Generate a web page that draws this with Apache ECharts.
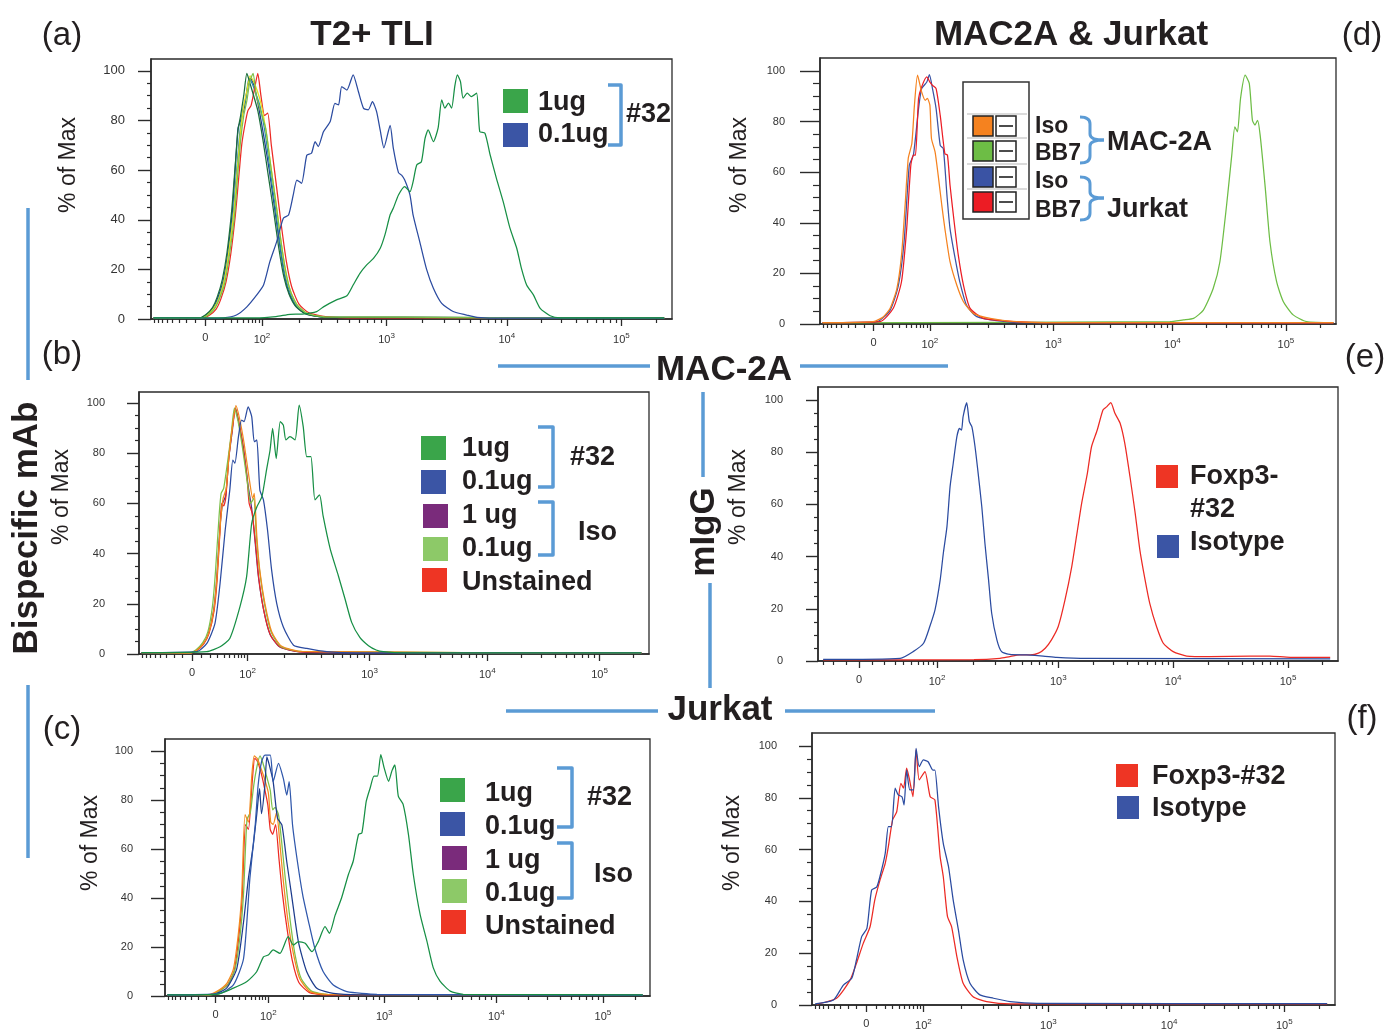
<!DOCTYPE html>
<html>
<head>
<meta charset="utf-8">
<script src="https://cdn.jsdelivr.net/npm/echarts@6/dist/echarts.min.js"></script>
<style>
html,body{margin:0;padding:0;background:#fff}
#chart{width:1388px;height:1034px}
</style>
</head>
<body>
<div id="chart"></div>
<script>
// x values are display channels (0–1000) of a biexponential fluorescence scale,
// y values are "% of Max" of each histogram.

// ---- tick labels and their channel positions ----
const xTickLabels = ['0', '10{s|2}', '10{s|3}', '10{s|4}', '10{s|5}'];
const xTickStd = [104, 213, 452, 683, 903];   // panels a, b, c, d, f
const xTickE   = [79, 229, 462, 683, 904];    // panel e
const yMajor = [0, 20, 40, 60, 80, 100];
const yMinor = [5, 10, 15, 25, 30, 35, 45, 50, 55, 65, 70, 75, 85, 90, 95];

// ---- (a) T2+ TLI ----
const aNavy = [[5,0.5],[93,0.4],[106,1.6],[119,4.4],[128,8.5],[138,15],[147,26],[156,43],[162,62],[167,77],[172,80],[179,85],[185,93],[191,97],[198,94],[207,85],[217,73],[227,60],[237,45],[247,30],[256,18],[266,10],[279,5],[298,2],[330,0.8],[985,0.4]];
const aTeal = [[5,0.5],[94,0.4],[107,1.6],[120,4.4],[130,8.4],[140,15.5],[149,27],[158,43],[164,59],[170,74],[176,84],[182,89],[188,97],[194,95],[201,91],[209,86],[219,75],[228,61],[238,46],[248,30],[257,18],[267,10.5],[280,5.2],[299,2.1],[331,0.8],[985,0.4]];
const aRed = [[5,0.5],[100,0.4],[112,1.5],[125,4],[134,8],[144,15],[153,26],[162,42],[168,56],[174,70],[180,78],[186,84],[192,86],[198,92],[205,99],[211,90],[218,82],[224,83],[231,70],[240,55],[250,38],[260,23],[270,13],[284,6],[303,2.5],[335,1],[400,0.5],[985,0.4]];
const aYellow = [[5,0.5],[95,0.4],[108,1.6],[121,4.5],[131,8.6],[141,16],[150,28],[160,45],[166,61],[172,76],[178,86],[184,92],[190,98],[196,96],[204,92],[212,86],[222,74],[231,60],[241,45],[251,29],[260,17],[270,10],[283,5],[302,2],[333,0.8],[985,0.4]];
const aDkGreen = [[5,0.5],[92,0.4],[105,1.7],[118,4.6],[127,8.8],[137,16],[146,27],[155,44],[161,60],[167,76],[172,82],[178,90],[184,99],[190,95],[197,90],[205,84],[215,72],[225,58],[235,44],[245,29],[255,17],[265,10],[278,5],[297,2],[329,0.8],[985,0.4]];
const aLtGreen = [[5,0.5],[96,0.4],[109,1.5],[122,4.2],[131,8],[141,14],[150,25],[160,41],[166,57],[172,72],[178,82],[184,88],[190,96],[196,99],[202,90],[210,84],[220,77],[229,63],[239,48],[249,32],[258,20],[268,11],[281,5.5],[300,2.2],[332,0.9],[985,0.4]];
const a01ug = [[5,0.5],[110,0.4],[139,0.5],[164,1.6],[184,4.9],[203,9.7],[216,13.7],[228,23],[241,31],[254,40.6],[264,41.9],[273,50],[280,56],[289,54.7],[299,66],[308,66.8],[315,71.5],[321,69.5],[331,75.5],[344,79.6],[353,86.9],[360,86.3],[366,93.7],[376,92.3],[388,98.4],[398,91.7],[408,84.9],[417,84.3],[425,87.6],[433,83.6],[440,76],[447,69],[459,78],[465,69],[475,59],[481,58],[487,56],[497,50],[503,42],[516,31],[529,20],[542,12.4],[558,6.3],[580,3],[606,1.6],[625,0.7],[660,0.4],[985,0.4]];
const a1ug = [[5,0.5],[200,0.5],[240,1],[267,1.9],[290,2],[318,3],[331,4.9],[356,7.7],[376,9.4],[388,13.7],[401,18.4],[414,21.8],[427,24.4],[440,28.5],[449,33.9],[459,42],[465,44.6],[475,50],[487,53.4],[497,51.3],[503,55.3],[510,62.1],[519,63.4],[526,72.8],[532,76.2],[542,71.5],[551,76.9],[558,88.3],[564,85],[571,87],[577,85],[583,93.7],[588,98.4],[594,95.7],[599,89],[607,91],[615,89.6],[625,91],[631,75.5],[641,74.9],[651,66.1],[663,56.7],[676,47.3],[689,36.6],[702,28.5],[711,20.4],[721,13.7],[734,9.7],[747,4.3],[766,1.3],[785,0.5],[985,0.5]];

// ---- (b) MAC-2A, bispecific mAb ----
const bPurple = [[5,0.5],[100,0.4],[113,1.5],[126,4],[136,8],[146,17],[152,29],[159,51],[164,60],[170,63],[176,78],[183,89],[189,98],[196,92],[205,82],[214,67],[221,58],[228,44],[234,31],[244,18],[257,7.8],[276,2.8],[316,0.8],[400,0.4],[985,0.4]];
const bRed = [[5,0.5],[101,0.4],[114,1.5],[127,4],[137,8],[147,17],[153,29],[159,50],[162,60],[166,59],[170,62],[176,78],[183,90],[189,98],[196,92],[205,81],[212,70],[216,60],[222,56],[229,43],[235,30],[245,17],[258,7.5],[277,2.8],[318,0.8],[985,0.4]];
const bOrange = [[5,0.5],[100,0.4],[114,1.6],[127,4.3],[137,8.4],[147,18],[153,31],[160,53],[165,62],[171,66],[177,80],[184,92],[190,99],[197,94],[206,84],[216,70],[223,62],[226,64],[231,47],[237,33],[247,20],[260,9],[279,3.2],[320,1],[985,0.4]];
const bLtGreen = [[5,0.5],[99,0.4],[112,1.7],[125,4.5],[135,8.8],[144,19],[150,33],[157,55],[161,64],[166,66],[174,77],[181,88],[187,98],[194,93],[203,82],[212,69],[219,60],[225,62],[230,47],[236,34],[246,20],[259,8.8],[278,3],[318,1],[985,0.4]];
const b01ug = [[5,0.5],[113,0.9],[133,4.2],[149,12.2],[159,28.2],[169,49.4],[178,65.3],[184,77.3],[188,76],[195,86.6],[201,93.2],[206,92.6],[214,98.5],[221,94.6],[226,84.6],[231,85.3],[237,65.3],[244,61.4],[252,49.4],[260,33.5],[270,20.2],[283,10.8],[303,3.5],[329,2.2],[368,0.9],[427,0.4],[985,0.4]];
const b1ug = [[5,0.5],[133,0.9],[159,2.9],[178,6.2],[198,18.9],[211,30.8],[221,52.1],[231,58.6],[241,62.7],[250,73.3],[257,81.3],[262,89.9],[269,77.9],[277,92.6],[283,91.2],[288,85.3],[296,86.6],[306,85.3],[314,99.2],[322,90.6],[329,78.6],[337,78.6],[345,61.4],[354,63.4],[361,55],[375,41.8],[391,31.1],[404,21.9],[417,12.6],[433,6.6],[450,3.3],[465,1.6],[479,0.9],[520,0.4],[985,0.4]];

// ---- (c) Jurkat, bispecific mAb ----
const cRed = [[5,0.5],[88,0.4],[108,1.6],[129,4.6],[143,10.5],[152,24],[159,40],[166,70],[172,68],[180,88],[185,97],[190,96],[197,92],[204,86],[212,78],[217,68],[222,66],[228,70],[235,56],[242,42],[252,27],[263,14],[276,5.5],[297,1.5],[330,0.5],[985,0.4]];
const cOrange = [[5,0.5],[86,0.4],[106,1.8],[127,5],[141,11],[151,25],[158,41],[165,74],[172,71],[179,90],[184,98],[190,97],[196,94],[203,90],[213,83],[218,71],[223,70],[230,75],[237,62],[244,47],[254,30],[265,17],[278,7],[299,1.8],[333,0.7],[985,0.4]];
const cLtGreen = [[5,0.5],[90,0.4],[110,1.8],[131,5],[145,11.5],[155,25],[162,42],[169,72],[176,75],[183,86],[190,94],[196,98],[202,95],[209,90],[217,84],[222,76],[227,77],[234,74],[241,62],[248,48],[258,31],[268,17],[281,7],[302,2],[336,0.7],[985,0.4]];
const cNavy = [[5,0.5],[100,0.7],[127,3.2],[148,11.2],[162,30.3],[172,48],[182,61.6],[189,73.8],[195,84.6],[199,74.4],[206,86],[210,97.6],[215,94.3],[223,87.5],[232,72.5],[241,69.8],[251,54.9],[261,41.2],[275,22.2],[292,10],[313,3.2],[347,1.1],[400,0.5],[985,0.4]];
const cBlue = [[5,0.5],[113,1.1],[141,4.5],[162,15.3],[175,48],[186,69.8],[192,86],[199,95.6],[206,98.3],[217,98.3],[223,87.5],[234,95],[244,88.8],[251,82],[256,87.5],[263,69.8],[273,54.9],[284,41.2],[296,30.3],[309,19.4],[326,10],[347,4.5],[375,1.8],[437,0.7],[985,0.4]];
const cGreen = [[5,0.5],[107,0.7],[141,3.2],[169,5.9],[189,9.9],[203,16],[213,16.7],[223,18.8],[237,17.4],[254,24.2],[265,20.8],[275,22.2],[289,21.5],[303,18.1],[316,22.2],[330,28.3],[339,25.6],[351,33.1],[364,40],[378,49.5],[388,55],[399,65.9],[406,66.6],[415,79.5],[423,84.9],[431,89.7],[438,89.7],[445,98.5],[452,93],[461,87.6],[468,92],[474,94.3],[481,81.6],[491,78.2],[502,65.9],[512,49.6],[526,33.3],[540,22.4],[553,11.6],[567,6.1],[588,2],[615,0.7],[985,0.5]];

// ---- (d) MAC2A & Jurkat, Iso / BB7 ----
const dGreen = [[5,0.4],[678,0.9],[704,1.6],[724,2.2],[743,5.5],[762,14],[775,24.6],[788,47],[798,66.7],[804,77.9],[809,75.9],[815,89.1],[824,98.3],[832,95],[838,80.5],[843,78.6],[848,80.5],[853,74.6],[863,53.6],[872,32.5],[885,16.6],[898,8.8],[917,3.6],[943,0.9],[995,0.5]];
const dBlue = [[5,0.5],[110,0.9],[136,5.5],[152,15.4],[163,32.5],[173,62.7],[181,66.7],[191,85.1],[197,93],[207,95.6],[212,98.5],[218,93],[225,85.1],[233,70.6],[239,69.3],[246,50.9],[252,37.7],[262,25.8],[271,16.6],[284,7.4],[304,2.9],[342,1.3],[394,0.5],[995,0.4]];
const dRed = [[5,0.5],[116,0.9],[142,6.2],[158,16.8],[168,37.7],[176,62.7],[181,66.7],[185,66.7],[191,89.1],[197,93.7],[207,97.6],[213,95.6],[218,94.3],[225,93],[233,82.4],[242,67.3],[247,66.7],[252,54.8],[260,40.3],[268,27.2],[278,15.4],[291,6.2],[317,2.2],[381,0.9],[439,0.5],[995,0.4]];
const dOrange = [[5,0.5],[103,0.9],[123,2.9],[136,6.2],[149,14],[158,27.2],[165,47],[171,65.4],[178,71.3],[183,86.4],[189,98.3],[197,91.7],[204,88.4],[208,89.1],[213,86.4],[216,73.3],[223,68],[229,58.8],[236,47],[242,37.7],[252,24.6],[265,15.4],[278,8.8],[297,4.2],[330,2.2],[381,0.9],[446,0.5],[995,0.5]];

// ---- (e) MAC-2A, mIgG ----
const eRed = [[10,0.4],[300,0.5],[350,1],[369,1.7],[388,2.3],[408,2.3],[424,3],[437,4.9],[449,8.1],[462,13.2],[475,23.4],[488,36.2],[498,48.9],[507,60.4],[518,71.9],[526,82.1],[537,88.5],[548,96.2],[555,97.4],[563,99],[571,94.9],[581,91.1],[590,83.4],[600,70.6],[610,56.6],[619,42.5],[629,31.1],[638,22.1],[651,13.2],[664,6.8],[683,3.6],[709,1.9],[754,1.7],[831,1.9],[869,1.9],[908,1.4],[985,1.4]];
const eBlue = [[10,0.6],[158,1],[183,3.6],[203,6.8],[215,13.2],[225,19.6],[235,31.1],[241,41.3],[248,51.5],[254,66.8],[260,75.7],[267,85.9],[272,89.1],[276,88.5],[279,93.6],[286,99],[291,91.7],[296,89.7],[302,82.1],[308,71.9],[315,59.1],[321,45.1],[328,31.1],[334,18.3],[344,8.1],[353,3.6],[369,2.5],[401,2.3],[433,1.9],[459,1.4],[517,1],[985,0.8]];

// ---- (f) Jurkat, mIgG ----
const fRed = [[9,0.3],[47,2.6],[73,9.7],[85,16.1],[98,23.8],[111,30.2],[120,40.5],[130,48.2],[140,54.7],[146,61.1],[154,71.4],[162,74.6],[170,85.6],[175,83.7],[181,91.4],[186,87.5],[193,80.4],[199,98.5],[205,86.9],[216,90.1],[226,80.4],[235,79.2],[245,57.3],[251,49.6],[259,34.2],[267,30.2],[277,18.7],[289,8.4],[308,3.2],[334,1.3],[379,0.4],[985,0.4]];
const fBlue = [[6,0.4],[41,1.9],[60,7.7],[76,10.3],[85,17.4],[95,26.4],[105,29.6],[114,44.4],[124,45.6],[133,52.1],[140,58.5],[146,68.9],[152,68.9],[159,83.7],[165,81.1],[172,80.4],[176,77.2],[181,90.7],[187,83],[194,83],[199,99.1],[205,92],[213,94.6],[222,93.9],[231,90.7],[235,90.7],[242,76.5],[251,62.4],[261,53.4],[270,40.5],[280,28.9],[289,17.4],[302,8.4],[321,3.9],[347,2.6],[379,1.3],[430,0.6],[985,0.5]];

// ---- colours ----
const C = {
  green: '#178f45', blue: '#2b4ba0', navy: '#1d3c8c', teal: '#2a8fa8', red: '#ec2a24',
  yellow: '#e4df1e', dkgreen: '#1b6e3b', ltgreen: '#7cc04a', orange: '#f28a1e', purple: '#5a2f7e',
  sqGreen: '#3aa54a', sqBlue: '#3b55a5', sqPurple: '#7a2b7b', sqLtGreen: '#8dc968', sqRed: '#ee3524',
  dOrange: '#f5821f', dGreen: '#6dbd45', dBlue: '#3a53a4', dRed: '#ec1c24',
  bracket: '#5b9bd5', ink: '#231f20', axis: '#2b2b2b'
};

const FONT = '"Liberation Sans", Arial, Helvetica, sans-serif';

// ---- panel layout ----
const panels = [
  { rect: [151, 59, 521, 260], ymax: 104.8, ticks: xTickStd, yLen: [13, 4], yMargin: 26, yFont: 13,
    lines: [[aNavy, C.navy], [aTeal, C.teal], [aRed, C.red], [aYellow, C.yellow], [aDkGreen, C.dkgreen], [aLtGreen, C.ltgreen], [a01ug, C.blue], [a1ug, C.green]] },
  { rect: [139, 392, 510, 262], ymax: 104.4, ticks: xTickStd, yLen: [12, 4], yMargin: 34, yFont: 11,
    lines: [[bPurple, C.purple], [bRed, C.red], [bLtGreen, C.ltgreen], [bOrange, C.orange], [b01ug, C.blue], [b1ug, C.green]] },
  { rect: [165, 739, 485, 257], ymax: 104.9, ticks: xTickStd, yLen: [14, 5], yMargin: 32, yFont: 11,
    lines: [[cRed, C.red], [cLtGreen, C.ltgreen], [cOrange, C.orange], [cNavy, C.navy], [cBlue, '#2f57ab'], [cGreen, C.green]] },
  { rect: [820, 58, 516, 266], ymax: 105.1, ticks: xTickStd, yLen: [20, 7], yMargin: 35, yFont: 11,
    lines: [[dGreen, C.dGreen], [dBlue, C.dBlue], [dRed, C.dRed], [dOrange, C.dOrange]] },
  { rect: [818, 387, 520, 274], ymax: 105, ticks: xTickE, yLen: [12, 4], yMargin: 35, yFont: 11,
    lines: [[eRed, C.red], [eBlue, C.blue]] },
  { rect: [812, 733, 523, 272], ymax: 105, ticks: xTickStd, yLen: [13, 5], yMargin: 35, yFont: 11,
    lines: [[fRed, C.red], [fBlue, C.blue]] }
];

// minor tick channels of the biexponential axis
function minorX(t) {
  const out = [];
  const k = (t[1] - t[0]) / Math.asinh(100 / 30);
  for (let v = 10; v <= 90; v += 10) {
    out.push(t[0] + k * Math.asinh(v / 30));
    const n = t[0] - k * Math.asinh(v / 30);
    if (n > 2) out.push(n);
  }
  for (let d = 1; d < 4; d++)
    for (let m = 2; m <= 9; m++) out.push(t[d] + Math.log10(m) * (t[d + 1] - t[d]));
  const w = t[4] - t[3];
  for (let m = 2; m <= 9; m++) { const x = t[4] + Math.log10(m) * w; if (x < 998) out.push(x); }
  return out;
}

const option = { animation: false, backgroundColor: '#fff', grid: [], xAxis: [], yAxis: [], series: [], graphic: [] };

panels.forEach((p, i) => {
  option.grid.push({
    left: p.rect[0], top: p.rect[1], width: p.rect[2], height: p.rect[3],
    show: true, borderColor: C.axis, borderWidth: 1.3, backgroundColor: '#fff',
    containLabel: false, outerBoundsMode: 'none'
  });
  const ticks = p.ticks;
  option.xAxis.push({
    gridIndex: i, type: 'value', min: 0, max: 1000, position: 'bottom',
    axisLine: { show: true, onZero: false, lineStyle: { color: C.axis, width: 1.6 } },
    axisTick: { show: true, customValues: ticks, length: 7, lineStyle: { color: C.axis, width: 1.3 } },
    axisLabel: {
      customValues: ticks, margin: 13, fontSize: 11, color: '#333', fontFamily: FONT,
      formatter: v => { const j = ticks.findIndex(q => Math.abs(q - v) < 0.01); return j < 0 ? '' : xTickLabels[j]; },
      rich: { s: { fontSize: 8, fontFamily: FONT, color: '#333', padding: [0, 0, 7, 0] } }
    },
    splitLine: { show: false }
  });
  option.xAxis.push({
    gridIndex: i, type: 'value', min: 0, max: 1000, position: 'bottom',
    axisLine: { show: false, onZero: false },
    axisTick: { show: true, customValues: minorX(ticks), length: 4, lineStyle: { color: C.axis, width: 1.2 } },
    axisLabel: { show: false }, splitLine: { show: false }
  });
  option.yAxis.push({
    gridIndex: i, type: 'value', min: 0, max: p.ymax, position: 'left',
    axisLine: { show: true, onZero: false, lineStyle: { color: C.axis, width: 1.6 } },
    axisTick: { show: true, customValues: yMajor, length: p.yLen[0], lineStyle: { color: C.axis, width: 1.4 } },
    axisLabel: { customValues: yMajor, margin: p.yMargin, fontSize: p.yFont, color: '#333', fontFamily: FONT },
    splitLine: { show: false }
  });
  option.yAxis.push({
    gridIndex: i, type: 'value', min: 0, max: p.ymax, position: 'left',
    axisLine: { show: false, onZero: false },
    axisTick: { show: true, customValues: yMinor, length: p.yLen[1], lineStyle: { color: C.axis, width: 1.2 } },
    axisLabel: { show: false }, splitLine: { show: false }
  });
  p.lines.forEach(([data, color]) => {
    option.series.push({
      type: 'line', xAxisIndex: 2 * i, yAxisIndex: 2 * i, data: data,
      showSymbol: false, smooth: 0.2, silent: true,
      lineStyle: { color: color, width: 1.25 }
    });
  });
});

// ---- annotation helpers ----
const G = option.graphic;
function text(x, y, s, size, opt = {}) {
  const rot = opt.rot || 0;
  G.push({
    type: 'text', x: rot ? x + 2 : x, y: rot ? y : y + 2.5, rotation: rot, z: 100,
    style: {
      text: s, fill: opt.fill || C.ink,
      font: (opt.bold === false ? '' : 'bold ') + size + 'px ' + FONT,
      textAlign: opt.align || 'left', textVerticalAlign: 'middle'
    }
  });
}
function sq(x, y, w, h, fill, stroke) {
  G.push({ type: 'rect', z: 100, shape: { x: x, y: y, width: w, height: h },
    style: { fill: fill, stroke: stroke || null, lineWidth: stroke ? 1.5 : 0 } });
}
function line(x1, y1, x2, y2, color, w) {
  G.push({ type: 'line', z: 100, shape: { x1: x1, y1: y1, x2: x2, y2: y2 },
    style: { stroke: color, lineWidth: w, lineCap: 'butt' } });
}
function squareBracket(x0, y0, x1, y1) {
  G.push({ type: 'polyline', z: 100, shape: { points: [[x0, y0], [x1, y0], [x1, y1], [x0, y1]] },
    style: { stroke: C.bracket, lineWidth: 3.5, fill: null, lineJoin: 'round' } });
}
function curve(x1, y1, cx, cy, x2, y2) {
  G.push({ type: 'bezierCurve', z: 100, shape: { x1: x1, y1: y1, cpx1: cx, cpy1: cy, x2: x2, y2: y2 },
    style: { stroke: C.bracket, lineWidth: 3, fill: null } });
}
function curlyBracket(x0, yt, yb, ym, xs, xt) {
  curve(x0, yt, xs, yt, xs, yt + 7);
  line(xs, yt + 7, xs, ym - 6, C.bracket, 3);
  curve(xs, ym - 6, xs, ym, xt, ym);
  curve(xt, ym, xs, ym, xs, ym + 6);
  line(xs, ym + 6, xs, yb - 7, C.bracket, 3);
  curve(xs, yb - 7, xs, yb, x0, yb);
}

// ---- headings and panel letters ----
text(372, 33, 'T2+ TLI', 35, { align: 'center' });
text(1071, 33, 'MAC2A & Jurkat', 35, { align: 'center' });
text(62, 33, '(a)', 33, { align: 'center', bold: false });
text(62, 352, '(b)', 33, { align: 'center', bold: false });
text(62, 727, '(c)', 33, { align: 'center', bold: false });
text(1362, 33, '(d)', 33, { align: 'center', bold: false });
text(1365, 355, '(e)', 33, { align: 'center', bold: false });
text(1362, 716, '(f)', 33, { align: 'center', bold: false });

// ---- row / column captions with separators ----
text(25, 528, 'Bispecific mAb', 35, { align: 'center', rot: Math.PI / 2 });
line(28, 208, 28, 380, C.bracket, 3.5);
line(28, 685, 28, 858, C.bracket, 3.5);
text(724, 368, 'MAC-2A', 35, { align: 'center' });
line(498, 366, 650, 366, C.bracket, 3.5);
line(800, 366, 948, 366, C.bracket, 3.5);
text(702, 532, 'mIgG', 35, { align: 'center', rot: Math.PI / 2 });
line(703, 392, 703, 477, C.bracket, 3.5);
line(710, 583, 710, 688, C.bracket, 3.5);
text(720, 708, 'Jurkat', 35, { align: 'center' });
line(506, 711, 658, 711, C.bracket, 3.5);
line(785, 711, 935, 711, C.bracket, 3.5);

// ---- y-axis titles ----
[[67, 165], [60, 497], [89, 843], [738, 165], [737, 497], [731, 843]].forEach(([x, y]) =>
  text(x, y, '% of Max', 23, { align: 'center', rot: Math.PI / 2, bold: false }));

// ---- legend (a) ----
sq(503, 89, 25, 24, C.sqGreen); sq(503, 123, 25, 24, C.sqBlue);
text(538, 100, '1ug', 27); text(538, 132, '0.1ug', 27);
squareBracket(608, 85, 621, 145);
text(626, 112, '#32', 27);

// ---- legend (b) ----
sq(421, 436, 25, 24, C.sqGreen); sq(421, 470, 25, 24, C.sqBlue);
sq(423, 504, 25, 24, C.sqPurple); sq(423, 537, 25, 24, C.sqLtGreen); sq(422, 568, 25, 24, C.sqRed);
text(462, 446, '1ug', 27); text(462, 479, '0.1ug', 27); text(462, 513, '1 ug', 27);
text(462, 546, '0.1ug', 27); text(462, 580, 'Unstained', 27);
squareBracket(538, 427, 553, 487); text(570, 455, '#32', 27);
squareBracket(538, 502, 553, 555); text(578, 530, 'Iso', 27);

// ---- legend (c) ----
sq(440, 778, 25, 24, C.sqGreen); sq(440, 812, 25, 24, C.sqBlue);
sq(442, 846, 25, 24, C.sqPurple); sq(442, 879, 25, 24, C.sqLtGreen); sq(441, 910, 25, 24, C.sqRed);
text(485, 791, '1ug', 27); text(485, 824, '0.1ug', 27); text(485, 858, '1 ug', 27);
text(485, 891, '0.1ug', 27); text(485, 924, 'Unstained', 27);
squareBracket(557, 768, 572, 827); text(587, 795, '#32', 27);
squareBracket(557, 843, 572, 898); text(594, 872, 'Iso', 27);

// ---- legend (d) ----
G.push({ type: 'rect', z: 99, shape: { x: 963, y: 82, width: 66, height: 137 },
  style: { fill: '#fff', stroke: '#333', lineWidth: 1.5 } });
[114, 138, 164, 189].forEach(y => line(967, y, 1027, y, '#cfcfcf', 1.5));
[[116, C.dOrange], [141, C.dGreen], [167, C.dBlue], [192, C.dRed]].forEach(([y, c]) => {
  sq(973, y, 20, 20, c, '#222');
  sq(996, y, 20, 20, '#fff', '#222');
  line(999, y + 10, 1013, y + 10, '#111', 1.5);
});
text(1035, 124, 'Iso', 23); text(1035, 151, 'BB7', 23);
text(1035, 179, 'Iso', 23); text(1035, 208, 'BB7', 23);
curlyBracket(1080, 117, 163, 140, 1090, 1104);
curlyBracket(1080, 177, 220, 198, 1090, 1104);
text(1107, 140, 'MAC-2A', 27); text(1107, 207, 'Jurkat', 27);

// ---- legend (e) ----
sq(1156, 465, 22, 23, C.sqRed); sq(1157, 535, 22, 23, C.sqBlue);
text(1190, 474, 'Foxp3-', 27); text(1190, 507, '#32', 27); text(1190, 540, 'Isotype', 27);

// ---- legend (f) ----
sq(1116, 764, 22, 23, C.sqRed); sq(1117, 796, 22, 23, C.sqBlue);
text(1152, 774, 'Foxp3-#32', 27); text(1152, 806, 'Isotype', 27);

const chart = echarts.init(document.getElementById('chart'), null, { renderer: 'canvas' });
chart.setOption(option);
</script>
</body>
</html>
